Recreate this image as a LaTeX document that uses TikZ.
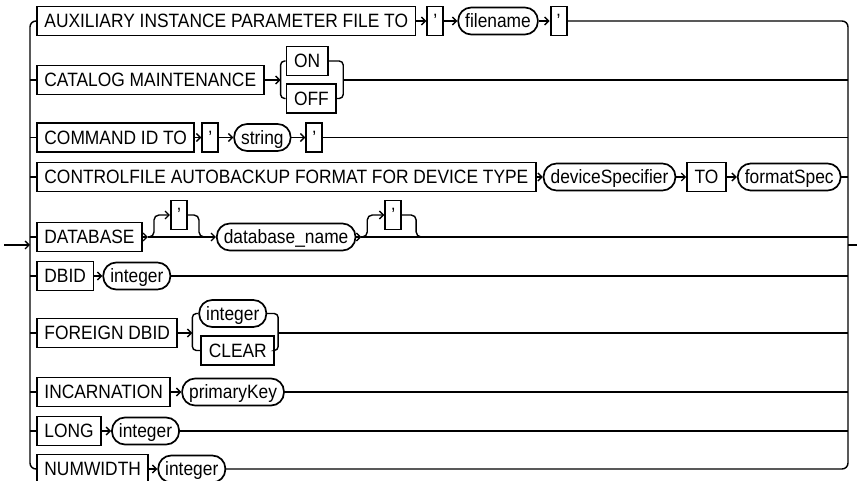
\documentclass[tikz,border=0pt]{standalone}
\usepackage{fontspec}
\setmainfont{Liberation Sans}[FakeStretch=0.9]
\usetikzlibrary{arrows.meta,positioning,calc}

\begin{document}
\begin{tikzpicture}[
        x=1pt, y=-1pt,
        kw/.style={draw, line width=1.9pt, minimum height=29pt, inner xsep=7.5pt, inner ysep=0pt,
            text height=13.8pt, text depth=0pt, font=\fontsize{19.3}{22}\selectfont},
        tick/.style={kw, minimum width=16pt, inner xsep=0pt},
        var/.style={draw, line width=1.7pt, rounded corners=13pt, minimum height=27pt, inner xsep=7pt, inner ysep=0pt,
            text height=13.8pt, text depth=0pt, font=\fontsize{19.3}{22}\selectfont},
        rail/.style={line width=1.4pt},
        >={Straight Barb[length=4pt,width=8pt]}
    ]
        \useasboundingbox (0,0) rectangle (857,481);
        \coordinate (start) at (4,245);
        \coordinate (lin) at (30,245);
        \coordinate (rout) at (848,245);
        \coordinate (fin) at (857,245);

        % rows
        \node[kw, anchor=west] (aux) at (36,21) {AUXILIARY INSTANCE PARAMETER FILE TO};
        \node[tick, right=10pt of aux] (q1a) {'};
        \node[var, right=13pt of q1a] (fname) {filename};
        \node[tick, right=11pt of fname] (q1b) {'};

        \node[kw, anchor=west] (cat) at (36,80) {CATALOG MAINTENANCE};
        \coordinate[right=16pt of cat] (cs);
        \node[kw, right=5pt of cs, yshift=19pt] (on) {ON};
        \node[kw, right=5pt of cs, yshift=-18.5pt] (off) {OFF};
        \coordinate[right=6pt of off] (cmx);
        \coordinate (cm) at (cmx |- cs);

        \node[kw, anchor=west] (cmd) at (36,137.5) {COMMAND ID TO};
        \node[tick, right=6pt of cmd] (q3a) {'};
        \node[var, right=14pt of q3a] (str) {string};
        \node[tick, right=14pt of str] (q3b) {'};

        \node[kw, anchor=west] (ctl) at (36,177) {CONTROLFILE AUTOBACKUP FORMAT FOR DEVICE TYPE};
        \node[var, right=6pt of ctl] (dev) {deviceSpecifier};
        \node[kw, right=10pt of dev] (to) {TO};
        \node[var, right=10pt of to] (fmt) {formatSpec};

        \node[kw, anchor=west] (dbs) at (36,237) {DATABASE};
        \coordinate[right=5pt of dbs] (sp1);
        \node[tick, right=27pt of dbs, yshift=22pt] (q5a) {'};
        \node[var, right=73pt of dbs] (dbn) {database\_name};
        \coordinate[left=17pt of dbn] (jn1);
        \coordinate[right=5pt of dbn] (sp2);
        \node[tick, right=28pt of dbn, yshift=22pt] (q5b) {'};
        \coordinate[right=14pt of q5b] (jn2a);
        \coordinate (jn2) at (jn2a |- dbn);

        \node[kw, anchor=west] (dbid) at (36,276) {DBID};
        \node[var, right=8pt of dbid] (i6) {integer};

        \node[kw, anchor=west] (fdb) at (36,333) {FOREIGN DBID};
        \coordinate[right=14pt of fdb] (fs);
        \node[var, right=6pt of fs, yshift=19.5pt] (i7) {integer};
        \node[kw, right=8pt of fs, yshift=-17.5pt] (clr) {CLEAR};
        \coordinate[right=3pt of clr] (fmx);
        \coordinate (fm) at (fmx |- fs);

        \node[kw, anchor=west] (inc) at (36,392) {INCARNATION};
        \node[var, right=10pt of inc] (pk) {primaryKey};

        \node[kw, anchor=west] (lng) at (36,431) {LONG};
        \node[var, right=9pt of lng] (i9) {integer};

        \node[kw, anchor=west] (num) at (36,469) {NUMWIDTH};
        \node[var, right=8pt of num] (i10) {integer};

        % rails
        \draw[rail,->] (start) -- (lin);
        \draw[rail, rounded corners=6pt] (aux) -| (lin) |- (num);
        \foreach \n in {cat,cmd,ctl,dbs,dbid,fdb,inc,lng}
            \draw[rail] (lin |- \n) -- (\n);
        \draw[rail, rounded corners=6pt] (q1b) -| (rout) |- (i10);
        \foreach \n in {cm,q3b,fmt,i6,fm,pk,i9}
            \draw[rail] (\n) -- (rout |- \n);
        \draw[rail] (rout) -- (fin);

        % connectors
        \draw[rail,->] (aux) -- (q1a);
        \draw[rail,->] (q1a) -- (fname);
        \draw[rail,->] (fname) -- (q1b);

        \draw[rail,->] (cat) -- (cs);
        \draw[rail, rounded corners=4pt] (on) -| (cs) |- (off);
        \draw[rail, rounded corners=4pt] (on) -| (cm) |- (off);

        \draw[rail,->] (cmd) -- (q3a);
        \draw[rail,->] (q3a) -- (str);
        \draw[rail,->] (str) -- (q3b);

        \draw[rail,->] (ctl) -- (dev);
        \draw[rail,->] (dev) -- (to);
        \draw[rail,->] (to) -- (fmt);

        \draw[rail,->] (dbs) -- (sp1);
        \draw[rail,->] (sp1) -- (dbn);
        \draw[rail,->,rounded corners=5pt] (sp1) -- ++(6,0) |- (q5a);
        \draw[rail, rounded corners=5pt] (q5a) -| (jn1) -- ++(6,0);
        \draw[rail,->] (dbn) -- (sp2);
        \draw[rail] (sp2) -- (rout |- sp2);
        \draw[rail,->,rounded corners=5pt] (sp2) -- ++(6,0) |- (q5b);
        \draw[rail, rounded corners=5pt] (q5b) -| (jn2) -- ++(6,0);

        \draw[rail,->] (dbid) -- (i6);

        \draw[rail,->] (fdb) -- (fs);
        \draw[rail, rounded corners=4pt] (i7) -| (fs) |- (clr);
        \draw[rail, rounded corners=4pt] (i7) -| (fm) |- (clr);

        \draw[rail,->] (inc) -- (pk);
        \draw[rail,->] (lng) -- (i9);
        \draw[rail,->] (num) -- (i10);
    \end{tikzpicture}
\end{document}
